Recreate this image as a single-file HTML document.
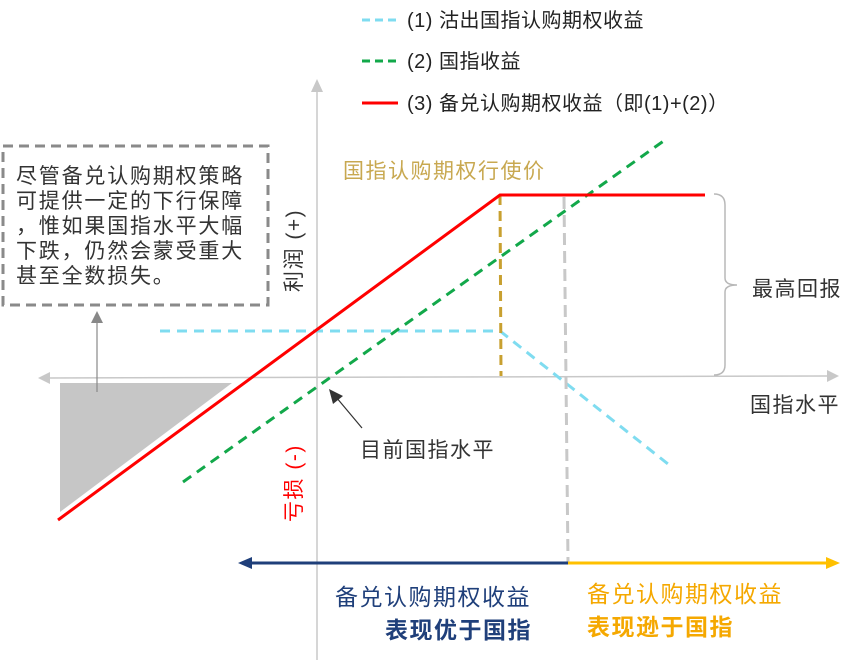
<!DOCTYPE html>
<html><head><meta charset="utf-8"><style>
html,body{margin:0;padding:0;background:#fff;}
svg{display:block;font-family:"Liberation Sans","Noto Sans CJK SC",sans-serif;}
</style></head><body>
<svg width="846" height="660" viewBox="0 0 846 660" xmlns="http://www.w3.org/2000/svg">
<!-- legend -->
<line x1="362" y1="20" x2="398" y2="20" stroke="#7fdcf0" stroke-width="3" stroke-dasharray="8,5"/>
<text x="407" y="27" font-size="20" fill="#222" letter-spacing="0.5">(1) 沽出国指认购期权收益</text>
<line x1="362" y1="61" x2="398" y2="61" stroke="#12a84a" stroke-width="3" stroke-dasharray="8,5"/>
<text x="407" y="68" font-size="20" fill="#222" letter-spacing="0.5">(2) 国指收益</text>
<line x1="362" y1="103" x2="398" y2="103" stroke="#f00" stroke-width="3"/>
<text x="407" y="110" font-size="20" fill="#222" letter-spacing="0.5">(3) 备兑认购期权收益（即(1)+(2)）</text>
<!-- axes -->
<line x1="317" y1="88" x2="317" y2="660" stroke="#c8c8c8" stroke-width="1.5"/>
<polygon points="317,79 311,92 323,92" fill="#c8c8c8"/>
<line x1="48" y1="378" x2="830" y2="376" stroke="#c8c8c8" stroke-width="1.5"/>
<polygon points="38,378 50,372 50,384" fill="#c8c8c8"/>
<polygon points="839,376 827,370 827,382" fill="#c8c8c8"/>
<!-- triangle -->
<polygon points="60,383 232,383 60,512" fill="#c6c6c6"/>
<line x1="97" y1="392" x2="97" y2="318" stroke="#888" stroke-width="1.2"/>
<polygon points="97,311 91,323 103,323" fill="#888"/>
<!-- box -->
<rect x="3" y="146" width="265" height="159" fill="none" stroke="#8a8a8a" stroke-width="3" stroke-dasharray="10,6"/>
<g font-size="21" fill="#333" letter-spacing="1.8">
<text x="16" y="183">尽管备兑认购期权策略</text>
<text x="16" y="208">可提供一定的下行保障</text>
<text x="16" y="233">，惟如果国指水平大幅</text>
<text x="16" y="258">下跌，仍然会蒙受重大</text>
<text x="16" y="283">甚至全数损失。</text>
</g>
<!-- cyan -->
<polyline points="160,331 500,331 668,464" fill="none" stroke="#7fdcf0" stroke-width="3" stroke-dasharray="10,7"/>
<!-- green -->
<line x1="183" y1="482" x2="665" y2="140" stroke="#12a84a" stroke-width="3" stroke-dasharray="10,7"/>
<!-- gold & gray verticals -->
<line x1="500" y1="195" x2="501" y2="376" stroke="#c8a030" stroke-width="3" stroke-dasharray="10,6"/>
<line x1="564" y1="197" x2="568" y2="562" stroke="#c8c8c8" stroke-width="3" stroke-dasharray="12,6"/>
<!-- red -->
<polyline points="58,520 500,195 705,195" fill="none" stroke="#f00" stroke-width="3"/>
<!-- brace -->
<path d="M714,194 Q725,194 725,205 L725,278 Q725,285 737,285 Q725,285 725,292 L725,365 Q725,375 714,375" fill="none" stroke="#b8b8b8" stroke-width="1.5"/>
<!-- labels -->
<g font-size="21" letter-spacing="1.5">
<text x="343" y="178" fill="#c8a850">国指认购期权行使价</text>
<text x="752" y="296" fill="#333">最高回报</text>
<text x="750" y="412" fill="#333">国指水平</text>
<text x="360" y="457" fill="#333">目前国指水平</text>
<text transform="translate(301,292) rotate(-90)" fill="#333">利润 (+)</text>
<text transform="translate(301,522) rotate(-90)" fill="#f00">亏损 (-)</text>
</g>
<line x1="362" y1="428" x2="336" y2="397" stroke="#333" stroke-width="1.2"/>
<polygon points="329,389 333,404 343,396" fill="#333"/>
<!-- bottom arrow -->
<line x1="250" y1="563" x2="568" y2="563" stroke="#1f3f7a" stroke-width="3"/>
<polygon points="238,563 252,557 252,569" fill="#1f3f7a"/>
<line x1="568" y1="563" x2="828" y2="563" stroke="#ffc000" stroke-width="3"/>
<polygon points="840,563 826,557 826,569" fill="#ffc000"/>
<g font-size="23" letter-spacing="1.5">
<text x="335" y="605" fill="#1f3f7a">备兑认购期权收益</text>
<text x="385" y="638" font-weight="bold" fill="#1f3f7a">表现优于国指</text>
<text x="587" y="602" fill="#f5a800">备兑认购期权收益</text>
<text x="587" y="635" font-weight="bold" fill="#f5a800">表现逊于国指</text>
</g>
</svg>
</body></html>
